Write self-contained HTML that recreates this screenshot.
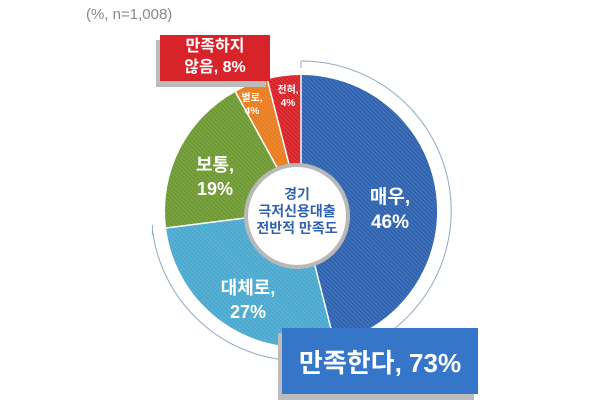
<!DOCTYPE html><html><head><meta charset="utf-8"><style>
body{margin:0;background:#fff;width:600px;height:403px;overflow:hidden;position:relative;font-family:"Liberation Sans","Noto Sans CJK KR",sans-serif}
.t{position:absolute}
</style></head><body>
<div class="t" style="left:86px;top:6px;font-size:15px;color:#8a8a8a">(%, n=1,008)</div>
<svg width="600" height="403" style="position:absolute;left:0;top:0">
<defs><pattern id="h" width="3" height="3" patternUnits="userSpaceOnUse" patternTransform="rotate(45)"><rect width="3" height="1" fill="rgba(255,255,255,0.12)"/></pattern></defs>
<g transform="translate(301,211)">
<path d="M0,-150 A150,150 0 1,1 -148.6,18.9" fill="none" stroke="#8fa8c4" stroke-width="1"/>
<line x1="0" y1="-150" x2="0" y2="-143" stroke="#8fa8c4"/>
<line x1="-148.6" y1="14" x2="-148.6" y2="24" stroke="#8fa8c4"/>
<path d="M0,0 L0,-136 A136,136 0 0,1 33.6,131.8 Z" fill="#2f63b0"/>
<path d="M0,0 L33.6,131.8 A136,136 0 0,1 -134.9,17.0 Z" fill="#4ba9d0"/>
<path d="M0,0 L-134.9,17.0 A136,136 0 0,1 -65.6,-119.1 Z" fill="#6f9a33"/>
<path d="M0,0 L-65.6,-119.1 A136,136 0 0,1 -33.8,-131.7 Z" fill="#ea7d1f"/>
<path d="M0,0 L-33.8,-131.7 A136,136 0 0,1 0,-136 Z" fill="#d8232a"/>
<circle r="136" fill="url(#h)"/>
<g stroke="#fff" stroke-width="1.5"><line x1="0" y1="0" x2="0" y2="-136"/><line x1="0" y1="0" x2="33.6" y2="131.8"/><line x1="0" y1="0" x2="-134.9" y2="17"/><line x1="0" y1="0" x2="-65.6" y2="-119.1"/><line x1="0" y1="0" x2="-33.8" y2="-131.7"/></g>
<circle cx="-4" cy="5" r="51" fill="#fff" stroke="#b8b8b8" stroke-width="4"/>
</g>
<rect x="156" y="40" width="110" height="47" fill="#bcbcbc"/>
<rect x="160" y="35" width="110" height="46" fill="#d8232a"/>
<rect x="278" y="333" width="196" height="67" fill="#bcbcbc"/>
<rect x="282" y="328" width="196" height="66" fill="#3576c9"/>
</svg>
<div class="t" style="left:160px;top:36px;width:110px;text-align:center;color:#fff;font-weight:bold;font-size:16px;line-height:21px">만족하지<br>않음, 8%</div>
<div class="t" style="left:282px;top:343px;width:196px;text-align:center;color:#fff;font-size:26px;font-weight:bold">만족한다, 73%</div>
<div class="t" style="left:350px;top:185px;width:80px;text-align:center;color:#fff;font-weight:bold;font-size:19px;line-height:25px">매우,<br>46%</div>
<div class="t" style="left:208px;top:276px;width:80px;text-align:center;color:#fff;font-weight:bold;font-size:18px;line-height:24px">대체로,<br>27%</div>
<div class="t" style="left:180px;top:153px;width:70px;text-align:center;color:#fff;font-weight:bold;font-size:18px;line-height:24px">보통,<br>19%</div>
<div class="t" style="left:232px;top:92px;width:40px;text-align:center;color:#fff;font-weight:bold;font-size:10px;line-height:13px">별로,<br>4%</div>
<div class="t" style="left:268px;top:84px;width:40px;text-align:center;color:#fff;font-weight:bold;font-size:10px;line-height:13px">전혀,<br>4%</div>
<div class="t" style="left:245px;top:186px;width:104px;text-align:center;color:#2f63b0;font-weight:bold;font-size:14px;line-height:17px">경기<br>극저신용대출<br>전반적 만족도</div>
</body></html>
